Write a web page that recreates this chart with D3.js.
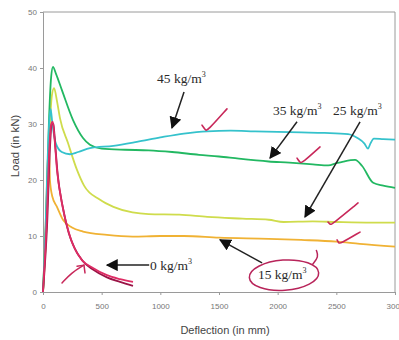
<!DOCTYPE html>
<html>
<head>
<meta charset="utf-8">
<script src="https://cdn.jsdelivr.net/npm/d3@7"></script>
<style>
  body { margin: 0; background: #fff; }
  svg { display: block; }
  .tick text { font-family: "Liberation Sans", Arial, sans-serif; font-size: 8px; fill: #777; }
  .tick line, .domain { stroke: #9a9a9a; }
  .anno { font-family: "Liberation Serif", "Times New Roman", serif; font-size: 13.5px; fill: #2a2a2a; }
</style>
</head>
<body>
<div id="chart"></div>
<script>
// deflection (mm) vs load (kN)
const xTicks = [0, 500, 1000, 1500, 2000, 2500, 3000];
const yTicks = [0, 10, 20, 30, 40, 50];

const fibre45 = [[0,0],[20,10],[40,24],[55,31],[65,32.7],[80,30],[110,26.5],[160,25],[230,24.6],[300,25],[400,25.7],[600,26.1],[800,26.8],[1000,27.6],[1200,28.3],[1400,28.7],[1600,28.8],[1800,28.7],[2000,28.6],[2200,28.5],[2400,28.4],[2600,28.2],[2680,27.5],[2740,26.5],[2770,25.6],[2790,26.5],[2820,27.4],[2900,27.3],[3000,27.2]];
const fibre35 = [[0,0],[30,15],[50,30],[70,38.5],[85,40.2],[110,39],[162,36],[256,30.7],[341,27.5],[400,26.3],[500,25.6],[700,25.4],[900,25.3],[1100,25],[1330,24.5],[1500,24.2],[1669,23.8],[1924,23.3],[2100,23.1],[2300,22.8],[2432,22.6],[2500,23],[2560,23.3],[2660,23.6],[2720,22.5],[2814,19.5],[2900,19],[3000,18.6]];
const fibre25 = [[0,0],[30,12],[55,28],[75,35],[94,36.4],[120,34],[145,31],[213,26.6],[288,21.9],[350,19],[483,16.5],[600,15.2],[763,14.2],[900,13.9],[1161,13.8],[1400,13.4],[1700,13.1],[1924,12.9],[2051,12.5],[2300,12.6],[2500,12.5],[2800,12.4],[3000,12.4]];
const fibre15 = [[0,0],[20,10],[35,20],[45,25],[52,26],[59,20],[80,17],[119,15.2],[170,12.9],[247,11.5],[341,10.8],[545,10.2],[763,9.9],[1000,10],[1200,10],[1500,9.7],[1924,9.5],[2200,9.3],[2500,9.0],[2700,8.6],[3000,8.1]];
const fibre0a = [[0,0],[30,12],[55,26],[70,30],[83,30.4],[100,27],[119,21.9],[160,16],[213,11.1],[256,8.4],[332,5.7],[426,4.3],[545,3.0],[656,2.3],[767,1.8]];
const fibre0b = [[0,0],[35,12],[60,26],[75,30.2],[88,30],[105,26],[125,21],[170,15],[220,10.5],[270,7.8],[340,5.5],[426,4.0],[545,2.6],[656,1.8],[767,1.1]];

const series = [
  { data: fibre15, color: '#f0b234' },
  { data: fibre25, color: '#cfdc4c' },
  { data: fibre35, color: '#22b862' },
  { data: fibre45, color: '#35c2cc' },
  { data: fibre0b, color: '#9a1446' },
  { data: fibre0a, color: '#de2c64' }
];

// annotation anchors in data units
const labels = [
  { text: '45 kg/m', at: [972, 38.2] },
  { text: '35 kg/m', at: [1960, 32.5] },
  { text: '25 kg/m', at: [2472, 32.5] },
  { text: '0 kg/m', at: [912, 4.8] },
  { text: '15 kg/m', at: [1832, 3.3] }
];
const arrows = [
  [[1202, 35.7], [1099, 29.3]],
  [[2165, 30.4], [1935, 23.9]],
  [[2702, 30.4], [2233, 13.4]],
  [[905, 4.8], [545, 4.8]],
  [[1867, 5.2], [1509, 9.3]]
];
const checks = [
  [[1355, 29.8], [1385, 28.9], [1400, 28.75], [1568, 32.7]],
  [[2165, 23.9], [2192, 23.1], [2207, 23.0], [2361, 25.9]],
  [[2429, 12.5], [2450, 12.0], [2463, 12.1], [2685, 15.9]],
  [[2506, 9.3], [2522, 8.7], [2531, 8.6], [2702, 10.7]]
];
const pinkArrow = [[162, 1.6], [240, 3.4], [349, 4.8]];
const pinkHead = [[290, 4.6], [349, 4.8], [358, 3.4]];

const width = 399, height = 340;
const margin = { top: 12, right: 4, bottom: 48, left: 43 };
const w = width - margin.left - margin.right;
const h = height - margin.top - margin.bottom;

const svg = d3.select('#chart').append('svg')
  .attr('width', width)
  .attr('height', height);

const defs = svg.append('defs');
defs.append('marker')
  .attr('id', 'head')
  .attr('viewBox', '0 0 10 10')
  .attr('refX', 9).attr('refY', 5)
  .attr('markerWidth', 8).attr('markerHeight', 8)
  .attr('markerUnits', 'strokeWidth')
  .attr('orient', 'auto')
  .append('path')
  .attr('d', 'M0,0 L10,5 L0,10 Z')
  .attr('fill', '#111');

const g = svg.append('g')
  .attr('transform', 'translate(' + margin.left + ',' + margin.top + ')');

const x = d3.scaleLinear().domain([0, 3000]).range([0, w]);
const y = d3.scaleLinear().domain([0, 50]).range([h, 0]);

// plot frame (top and right)
g.append('path')
  .attr('d', 'M0,0 H' + w + ' V' + h)
  .attr('fill', 'none')
  .attr('stroke', '#9a9a9a');

g.append('g')
  .attr('transform', 'translate(0,' + h + ')')
  .call(d3.axisBottom(x).tickValues(xTicks).tickSize(3).tickPadding(8).tickFormat(d3.format('d')));

g.append('g')
  .call(d3.axisLeft(y).tickValues(yTicks).tickSize(3).tickPadding(3));

const line = d3.line()
  .x(d => x(d[0]))
  .y(d => y(d[1]))
  .curve(d3.curveMonotoneX);

g.selectAll('.series')
  .data(series)
  .join('path')
  .attr('class', 'series')
  .attr('d', d => line(d.data))
  .attr('fill', 'none')
  .attr('stroke', d => d.color)
  .attr('stroke-width', 1.8)
  .attr('stroke-linejoin', 'round');

// axis titles
svg.append('text')
  .attr('x', margin.left + w / 2 + 6)
  .attr('y', 334)
  .attr('text-anchor', 'middle')
  .style('font-family', '"Liberation Sans", Arial, sans-serif')
  .style('font-size', '11px')
  .style('fill', '#444')
  .text('Deflection (in mm)');

svg.append('text')
  .attr('transform', 'translate(19,146) rotate(-90)')
  .attr('text-anchor', 'middle')
  .style('font-family', '"Liberation Sans", Arial, sans-serif')
  .style('font-size', '11.5px')
  .style('fill', '#444')
  .text('Load (in kN)');

// arrows
g.selectAll('.arrow')
  .data(arrows)
  .join('line')
  .attr('class', 'arrow')
  .attr('x1', d => x(d[0][0])).attr('y1', d => y(d[0][1]))
  .attr('x2', d => x(d[1][0])).attr('y2', d => y(d[1][1]))
  .attr('stroke', '#222')
  .attr('stroke-width', 1.5)
  .attr('marker-end', 'url(#head)');

// labels
const lab = g.selectAll('.anno')
  .data(labels)
  .join('text')
  .attr('class', 'anno')
  .attr('x', d => x(d.at[0]))
  .attr('y', d => y(d.at[1]) + 5);
lab.append('tspan').text(d => d.text);
lab.append('tspan').attr('dy', -6).style('font-size', '8px').text('3');

// hand-drawn marks
const pen = d3.line().x(d => x(d[0])).y(d => y(d[1])).curve(d3.curveBasis);
g.selectAll('.check')
  .data(checks)
  .join('path')
  .attr('class', 'check')
  .attr('d', pen)
  .attr('fill', 'none')
  .attr('stroke', '#c8285a')
  .attr('stroke-width', 1.6)
  .attr('stroke-linecap', 'round')
  .attr('stroke-linejoin', 'round');

g.append('path')
  .attr('d', pen(pinkArrow))
  .attr('fill', 'none').attr('stroke', '#c8285a').attr('stroke-width', 1.5).attr('stroke-linecap', 'round');
g.append('path')
  .attr('d', d3.line().x(d => x(d[0])).y(d => y(d[1]))(pinkHead))
  .attr('fill', 'none').attr('stroke', '#c8285a').attr('stroke-width', 1.5)
  .attr('stroke-linecap', 'round').attr('stroke-linejoin', 'round');

// ellipse round the 15 kg/m3 label
const ec = [2054, 3.0];
g.append('ellipse')
  .attr('cx', x(ec[0])).attr('cy', y(ec[1]))
  .attr('rx', x(2350) - x(2054)).attr('ry', y(0.3) - y(3.0))
  .attr('transform', 'rotate(-4,' + x(ec[0]) + ',' + y(ec[1]) + ')')
  .attr('fill', 'none')
  .attr('stroke', '#b8245a')
  .attr('stroke-width', 1.5);
g.append('path')
  .attr('d', pen([[2300, 5.0], [2350, 6.3], [2330, 7.4]]))
  .attr('fill', 'none').attr('stroke', '#b8245a').attr('stroke-width', 1.5).attr('stroke-linecap', 'round');
</script>
</body>
</html>
